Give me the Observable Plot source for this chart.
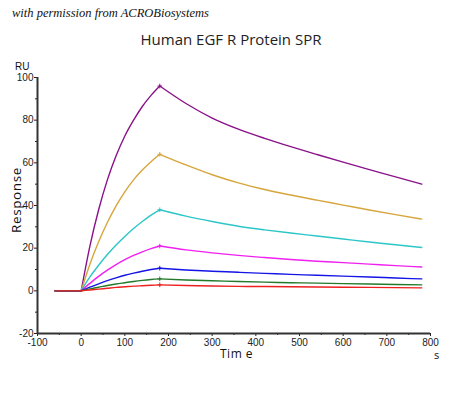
<!DOCTYPE html>
<html>
<head>
<meta charset="utf-8">
<script src="https://cdn.jsdelivr.net/npm/d3@7"></script>
<script src="https://cdn.jsdelivr.net/npm/@observablehq/plot@0.6"></script>
<style>
  html, body { margin: 0; padding: 0; background: #fff; }
  #wrap { position: relative; width: 450px; height: 394px; overflow: hidden; }
  .lbl { position: absolute; white-space: nowrap; color: #111; }
  #credit { left: 12px; top: 6px; font-family: "Liberation Serif", serif; font-style: italic; font-size: 12.5px; }
  #title { left: 0; width: 462px; text-align: center; top: 29px; font-family: "Open Sans", sans-serif; font-size: 15px; color: #222; }
  #ru { left: 15px; top: 61px; font-family: "Liberation Sans Narrow", "Liberation Sans", sans-serif; font-size: 10px; }
  #resp { left: 16px; top: 200px; transform: translate(-50%, -50%) rotate(-90deg); font-family: "Open Sans", sans-serif; font-size: 13.5px; letter-spacing: 0.6px; }
  #time { left: 220px; top: 345px; font-family: "Open Sans", sans-serif; font-size: 12px; letter-spacing: 0.5px; }
  #unit { left: 434px; top: 347px; font-family: "Open Sans", sans-serif; font-size: 11px; }
  #chart { position: absolute; left: 0; top: 0; }
</style>
</head>
<body>
<div id="wrap">
  <div id="chart"></div>
  <div class="lbl" id="credit">with permission from ACROBiosystems</div>
  <div class="lbl" id="title">Human EGF R Protein SPR</div>
  <div class="lbl" id="ru">RU</div>
  <div class="lbl" id="resp">Response</div>
  <div class="lbl" id="time">Tim e</div>
  <div class="lbl" id="unit">s</div>
</div>
<script>
const times = [-60, 0, 20, 40, 60, 80, 100, 120, 140, 160, 180, 240, 300, 360, 420, 480, 540, 600, 660, 720, 780];

const purple  = [0, 0, 21, 38, 52, 63.3, 72.6, 80, 86.4, 91.6, 96, 87.8, 81, 75.8, 71.5, 67.6, 63.9, 60.3, 56.8, 53.4, 50];
const gold    = [0, 0, 12.5, 23, 32, 39.8, 46.4, 52, 56.6, 60.5, 64, 59, 54.4, 50.6, 47.5, 44.9, 42.5, 40.2, 37.9, 35.7, 33.6];
const cyan    = [0, 0, 6.5, 12, 17, 21.5, 25.5, 29.2, 32.5, 35.5, 38, 35, 32.5, 30.3, 28.6, 27.1, 25.7, 24.3, 22.9, 21.6, 20.3];
const magenta = [0, 0, 3.5, 6.8, 9.7, 12.3, 14.6, 16.6, 18.3, 19.8, 21, 19.2, 17.8, 16.6, 15.6, 14.7, 13.9, 13.2, 12.5, 11.8, 11.2];
const blue    = [0, 0, 1.7, 3.3, 4.8, 6.1, 7.3, 8.3, 9.2, 10, 10.6, 9.8, 9.2, 8.7, 8.2, 7.7, 7.3, 6.9, 6.5, 6, 5.6];
const green   = [0, 0, 0.9, 1.7, 2.5, 3.2, 3.8, 4.4, 4.9, 5.3, 5.6, 5.1, 4.7, 4.4, 4.1, 3.8, 3.6, 3.4, 3.2, 3, 2.8];
const red     = [0, 0, 0.4, 0.8, 1.2, 1.6, 1.9, 2.2, 2.4, 2.6, 2.8, 2.5, 2.3, 2.1, 2, 1.9, 1.8, 1.7, 1.6, 1.5, 1.4];

const seriesNames = ["purple", "gold", "cyan", "magenta", "blue", "green", "red"];
const seriesValues = [purple, gold, cyan, magenta, blue, green, red];
const seriesColors = ["#8a128a", "#d6a63c", "#2cc6c8", "#f020f0", "#1414e6", "#237a2c", "#ee2020"];

const yMajor = [-20, 0, 20, 40, 60, 80, 100];
const yMinor = [-10, 10, 30, 50, 70, 90];
const xMajor = [-100, 0, 100, 200, 300, 400, 500, 600, 700, 800];
const xMinor = [-50, 50, 150, 250, 350, 450, 550, 650, 750];
const injectTime = 0;
const peakTime = 180;

// Build segments: baseline, association, dissociation (shared end points)
const rows = [];
seriesValues.forEach((vals, i) => {
  vals.forEach((v, j) => {
    const t = times[j];
    const base = { series: seriesNames[i], color: seriesColors[i], t, v };
    if (t <= injectTime) rows.push({ ...base, seg: seriesNames[i] + "-b" });
    if (t >= injectTime && t <= peakTime) rows.push({ ...base, seg: seriesNames[i] + "-a" });
    if (t >= peakTime) rows.push({ ...base, seg: seriesNames[i] + "-d" });
  });
});
const peaks = rows.filter(d => d.t === peakTime && d.seg.endsWith("-a"));

const tickFont = '"Liberation Sans Narrow", "Liberation Sans", sans-serif';

const chart = Plot.plot({
  width: 450,
  height: 394,
  marginLeft: 37,
  marginRight: 20,
  marginTop: 77,
  marginBottom: 61,
  style: { background: "transparent", fontFamily: tickFont, fontSize: "10px", color: "#222" },
  x: { domain: [-100, 800] },
  y: { domain: [-20, 100] },
  color: { type: "identity" },
  marks: [
    Plot.line(rows, { x: "t", y: "v", z: "seg", stroke: "color", strokeWidth: 1.4, curve: "monotone-x" }),
    Plot.dot(peaks, { x: "t", y: "v", stroke: "color", symbol: "plus", r: 1.6, strokeWidth: 1 }),
    Plot.axisY({ ticks: yMajor, tickSize: 3, tickPadding: 1, label: null, fontSize: 10, tickFormat: d => d }),
    Plot.axisY({ ticks: yMinor, tickSize: 2, text: null, label: null }),
    Plot.axisX({ ticks: xMajor, tickSize: 3, tickPadding: 2, label: null, fontSize: 10, tickFormat: d => d }),
    Plot.axisX({ ticks: xMinor, tickSize: 2, text: null, label: null }),
    Plot.ruleX([-100], { stroke: "#333", strokeWidth: 2 }),
    Plot.ruleY([-20], { stroke: "#333", strokeWidth: 2 })
  ]
});
document.getElementById("chart").appendChild(chart);
</script>
</body>
</html>
